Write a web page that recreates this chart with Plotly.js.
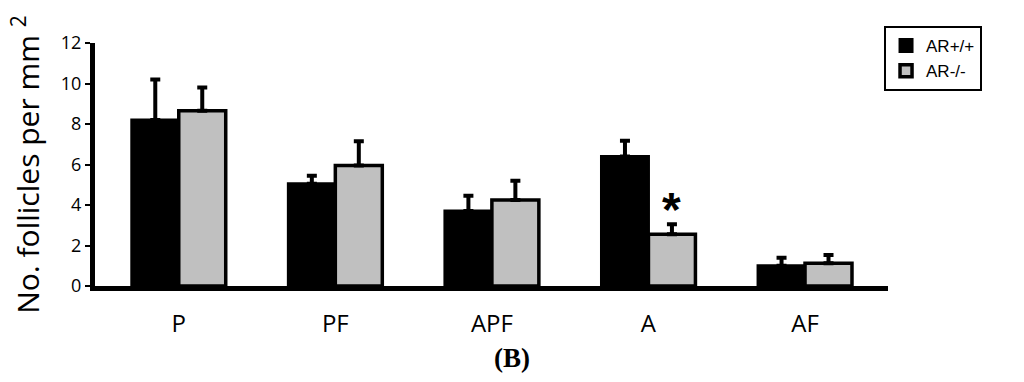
<!DOCTYPE html>
<html>
<head>
<meta charset="utf-8">
<script src="https://cdn.plot.ly/plotly-3.0.1.min.js"></script>
<style>html,body{margin:0;padding:0;background:#fff;}#chart{width:1024px;height:382px;}</style>
</head>
<body>
<div id="chart"></div>
<script>
const categories = ["P", "PF", "APF", "A", "AF"];
const seriesNames = ["AR+/+", "AR-/-"];
const wildType = [8.2, 5.05, 3.7, 6.4, 1.0];
const wildTypeErr = [2.0, 0.4, 0.76, 0.77, 0.4];
const knockout = [8.65, 5.95, 4.25, 2.55, 1.12];
const knockoutErr = [1.15, 1.2, 0.95, 0.5, 0.41];
const yTicks = [0, 2, 4, 6, 8, 10, 12];

const zeros = categories.map(() => 0);
const idx = categories.map((c, i) => i);

const traces = [
  {
    type: "bar", name: seriesNames[0], x: idx, y: wildType,
    marker: {color: "#000000", line: {color: "#000000", width: 3}},
    error_y: {type: "data", array: wildTypeErr, arrayminus: zeros, symmetric: false, color: "#000000", thickness: 4, width: 5}
  },
  {
    type: "bar", name: seriesNames[1], x: idx, y: knockout,
    marker: {color: "#c0c0c0", line: {color: "#000000", width: 3.5}},
    error_y: {type: "data", array: knockoutErr, arrayminus: zeros, symmetric: false, color: "#000000", thickness: 4, width: 5}
  }
];

const layout = {
  width: 1024, height: 382,
  margin: {l: 95, r: 136, t: 43, b: 96},
  paper_bgcolor: "#ffffff", plot_bgcolor: "#ffffff",
  font: {family: "Open Sans, Liberation Sans, sans-serif", color: "#000000"},
  barmode: "group", bargap: 0.4, bargroupgap: 0,
  showlegend: true,
  legend: {
    x: 0.995, y: 1.07, xanchor: "left", yanchor: "top",
    bgcolor: "#ffffff", bordercolor: "#000000", borderwidth: 2,
    font: {size: 17, family: "Liberation Sans, Arial, sans-serif"},
    entrywidth: 100, tracegroupgap: 2
  },
  xaxis: {
    range: [-0.535, 4.53], tickmode: "array", tickvals: idx, ticktext: categories,
    showline: true, linecolor: "#000000", linewidth: 5, ticks: "", showgrid: false, zeroline: false,
    ticklabelstandoff: 12,
    tickfont: {size: 24, family: "Open Sans, sans-serif"}, fixedrange: true
  },
  yaxis: {
    range: [0, 12], tickmode: "array", tickvals: yTicks, ticktext: yTicks.map(String),
    showline: true, linecolor: "#000000", linewidth: 5, ticks: "outside", ticklen: 5, tickwidth: 2, tickcolor: "#000000",
    showgrid: false, zeroline: false,
    tickfont: {size: 18, family: "Open Sans, sans-serif"},
    title: {text: "No. follicles per mm <sup>2</sup>", font: {size: 30, family: "Open Sans, sans-serif"}, standoff: 14}
  },
  annotations: [
    {xref: "x", yref: "y", x: 3, y: knockout[3] + knockoutErr[3], xshift: 23, yshift: -14, yanchor: "bottom",
     text: "<b>*</b>", showarrow: false, font: {size: 48, family: "Liberation Sans, Arial, sans-serif"}},
    {xref: "paper", yref: "paper", x: 0.526, y: -0.225, xanchor: "center", yanchor: "top",
     text: "<b>(B)</b>", showarrow: false, font: {size: 27, family: "Liberation Serif, Times New Roman, serif"}}
  ]
};

Plotly.newPlot("chart", traces, layout, {displayModeBar: false, staticPlot: true});
</script>
</body>
</html>
